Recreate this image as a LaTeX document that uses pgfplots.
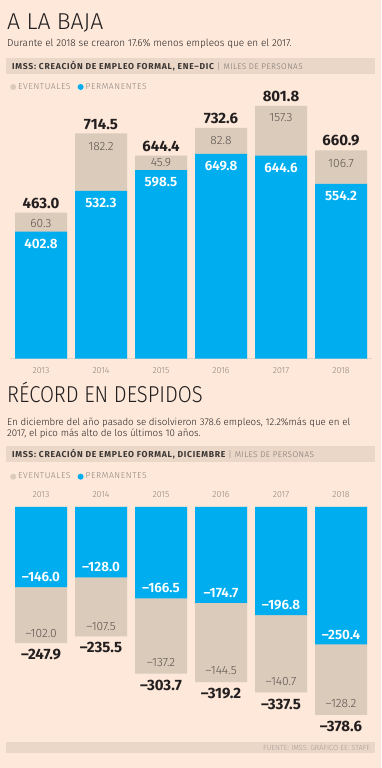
\documentclass[border=0pt]{standalone}
\usepackage{pgfplots}
\pgfplotsset{compat=1.18}
\usepackage{pgfplotstable}
\usepackage{fontspec}
\setmainfont{Fira Sans}
\newfontfamily\light{Fira Sans Light}
\newfontfamily\semi{Fira Sans SemiBold}
\newfontfamily\lightsp{Fira Sans Light}[LetterSpace=7]
\newfontfamily\milessp{Fira Sans Light}[LetterSpace=5]
\newfontfamily\boldsp{Fira Sans Bold}[LetterSpace=8.5]
\definecolor{bg}{RGB}{253,232,217}
\definecolor{band}{RGB}{234,215,200}
\definecolor{tanbar}{RGB}{219,203,187}
\definecolor{bluebar}{RGB}{0,174,239}
\definecolor{basegray}{RGB}{228,212,200}
\definecolor{yeargray}{RGB}{140,130,125}
\definecolor{ink}{RGB}{35,31,32}
\definecolor{tanink}{RGB}{90,82,78}
\definecolor{bandink}{RGB}{60,55,52}
\definecolor{miles}{RGB}{125,115,110}
\definecolor{foot}{RGB}{165,155,150}

% Chart A: creacion de empleo formal, ene-dic (miles)
\pgfplotstableread{
x perm  total evt   ypl   yel   ytl
0 402.8 463.0 60.3  364.7 427.3 493.1
1 532.3 714.5 182.2 494.2 672.6 744.6
2 598.5 644.4 45.9  560.4 620.9 674.5
3 649.8 732.6 82.8  611.7 693.5 762.7
4 644.6 801.8 157.3 606.5 763.6 831.9
5 554.2 660.9 106.7 516.1 620.0 691.0
}\chartA

% Chart B: diciembre (miles)
\pgfplotstableread{
x perm   total  evt    pl     el     tl     ypl    yel    ytl
0 -146.0 -247.9 -102.0 –146.0 –102.0 –247.9 -127.8 -230.1 -269.6
1 -128.0 -235.5 -107.5 –128.0 –107.5 –235.5 -109.8 -216.8 -255.6
2 -166.5 -303.7 -137.2 –166.5 –137.2 –303.7 -148.3 -283.6 -324.2
3 -174.7 -319.2 -144.5 –174.7 –144.5 –319.2 -156.5 -298.2 -339.3
4 -196.8 -337.5 -140.7 –196.8 –140.7 –337.5 -178.6 -318.2 -359.4
5 -250.4 -378.6 -128.2 –250.4 –128.2 –378.6 -232.2 -358.8 -398.9
}\chartB

\pgfplotsset{
  barstyle/.style={ybar, bar width=52pt, bar shift=0pt, draw=none,
    legend image code/.code={\fill[##1, draw=none] (0pt,0pt) circle (3pt);}},
  lab/.style={draw=none, mark=none, forget plot, nodes near coords,
    point meta=explicit symbolic, nodes near coords align={center}},
  common/.style={scale only axis, width=362pt, xmin=-0.5167, xmax=5.5167, clip=false,
    axis y line=none, xtick={0,...,5}, xticklabels={2013,2014,2015,2016,2017,2018},
    xtick style={draw=none},
    legend columns=-1,
    legend style={draw=none, fill=none, inner sep=0pt, anchor=west,
      font=\lightsp\fontsize{8.6}{9}\selectfont, text=yeargray,
      /tikz/every even column/.append style={column sep=5pt}},
  },
}

\begin{document}
\begin{tikzpicture}[x=1pt,y=1pt]
\path[use as bounding box, fill=bg] (0,0) rectangle (381,768);

% ---------- Part A texts ----------
\node[anchor=base west, inner sep=0pt, text=ink, font=\light\fontsize{23}{23}\selectfont] at (7,738.5) {A LA BAJA};
\node[anchor=base west, inner sep=0pt, text=ink, font=\light\fontsize{10}{12}\selectfont] at (7,721.5) {Durante el 2018 se crearon 17.6\% menos empleos que en el 2017.};
\fill[band] (6,694) rectangle (375,710);
\node[anchor=west, inner sep=0pt] at (12,702) {{\boldsp\fontsize{8.6}{9}\selectfont\color{bandink}IMSS: CREACIÓN DE EMPLEO FORMAL, ENE–DIC}\hspace{3pt}{\light\fontsize{8.6}{9}\selectfont\color{miles}|}\hspace{3pt}{\milessp\fontsize{8.2}{9}\selectfont\color{miles}MILES DE PERSONAS}};

\begin{axis}[common, at={(10pt,409.3pt)}, anchor=south west, height=277.4pt,
  ymin=0, ymax=880,
  axis x line=bottom, x axis line style={-, draw=basegray, line width=0.9pt},
  xticklabel style={anchor=center, yshift=-10pt, font=\light\fontsize{8.8}{9}\selectfont, text=yeargray},
  legend style={at={(0.0,0.9795)}}]
\addplot[barstyle, fill=tanbar] table[x=x, y=total] {\chartA};
\addlegendentry{EVENTUALES}
\addplot[barstyle, fill=bluebar] table[x=x, y=perm] {\chartA};
\addlegendentry{PERMANENTES}
\addplot[lab, nodes near coords style={font=\semi\fontsize{13.5}{14}\selectfont, text=white}] table[x=x, y=ypl, meta=perm] {\chartA};
\addplot[lab, nodes near coords style={font=\light\fontsize{12}{13}\selectfont, text=tanink}] table[x=x, y=yel, meta=evt] {\chartA};
\addplot[lab, nodes near coords style={font=\bfseries\fontsize{15}{16}\selectfont, text=ink}] table[x=x, y=ytl, meta=total] {\chartA};
\end{axis}

% ---------- Part B texts ----------
\node[anchor=base west, inner sep=0pt, text=ink, font=\light\fontsize{23}{23}\selectfont, xscale=0.88] at (7,365) {RÉCORD EN DESPIDOS};
\node[anchor=base west, inner sep=0pt, text=ink, font=\light\fontsize{9.75}{12}\selectfont] at (7,342.8) {En diciembre del año pasado se disolvieron 378.6 empleos, 12.2\%más que en el};
\node[anchor=base west, inner sep=0pt, text=ink, font=\light\fontsize{9.75}{12}\selectfont] at (7,331.3) {2017, el pico más alto de los últimos 10 años.};
\fill[band] (6,306) rectangle (375,322);
\node[anchor=west, inner sep=0pt] at (12,314) {{\boldsp\fontsize{8.6}{9}\selectfont\color{bandink}IMSS: CREACIÓN DE EMPLEO FORMAL, DICIEMBRE}\hspace{3pt}{\light\fontsize{8.6}{9}\selectfont\color{miles}|}\hspace{3pt}{\milessp\fontsize{8.2}{9}\selectfont\color{miles}MILES DE PERSONAS}};

\begin{axis}[common, at={(10pt,261pt)}, anchor=north west, height=219.6pt,
  ymin=-400, ymax=0,
  axis x line=top, x axis line style={-, draw=none},
  xticklabel style={anchor=center, yshift=10pt, font=\light\fontsize{8.8}{9}\selectfont, text=yeargray},
  legend style={at={(0.0,1.138)}}]
\addplot[barstyle, fill=tanbar] table[x=x, y=total] {\chartB};
\addlegendentry{EVENTUALES}
\addplot[barstyle, fill=bluebar] table[x=x, y=perm] {\chartB};
\addlegendentry{PERMANENTES}
\addplot[lab, nodes near coords style={font=\semi\fontsize{13.5}{14}\selectfont, text=white}] table[x=x, y=ypl, meta=pl] {\chartB};
\addplot[lab, nodes near coords style={font=\light\fontsize{12}{13}\selectfont, text=tanink}] table[x=x, y=yel, meta=el] {\chartB};
\addplot[lab, nodes near coords style={font=\bfseries\fontsize{15}{16}\selectfont, text=ink}] table[x=x, y=ytl, meta=tl] {\chartB};
\end{axis}

% ---------- Footer ----------
\fill[band] (6,15) rectangle (375,26);
\node[anchor=east, inner sep=0pt, text=foot, font=\light\fontsize{7.4}{8}\selectfont] at (371,20.5) {FUENTE: IMSS. GRÁFICO EE: STAFF.};
\end{tikzpicture}
\end{document}
